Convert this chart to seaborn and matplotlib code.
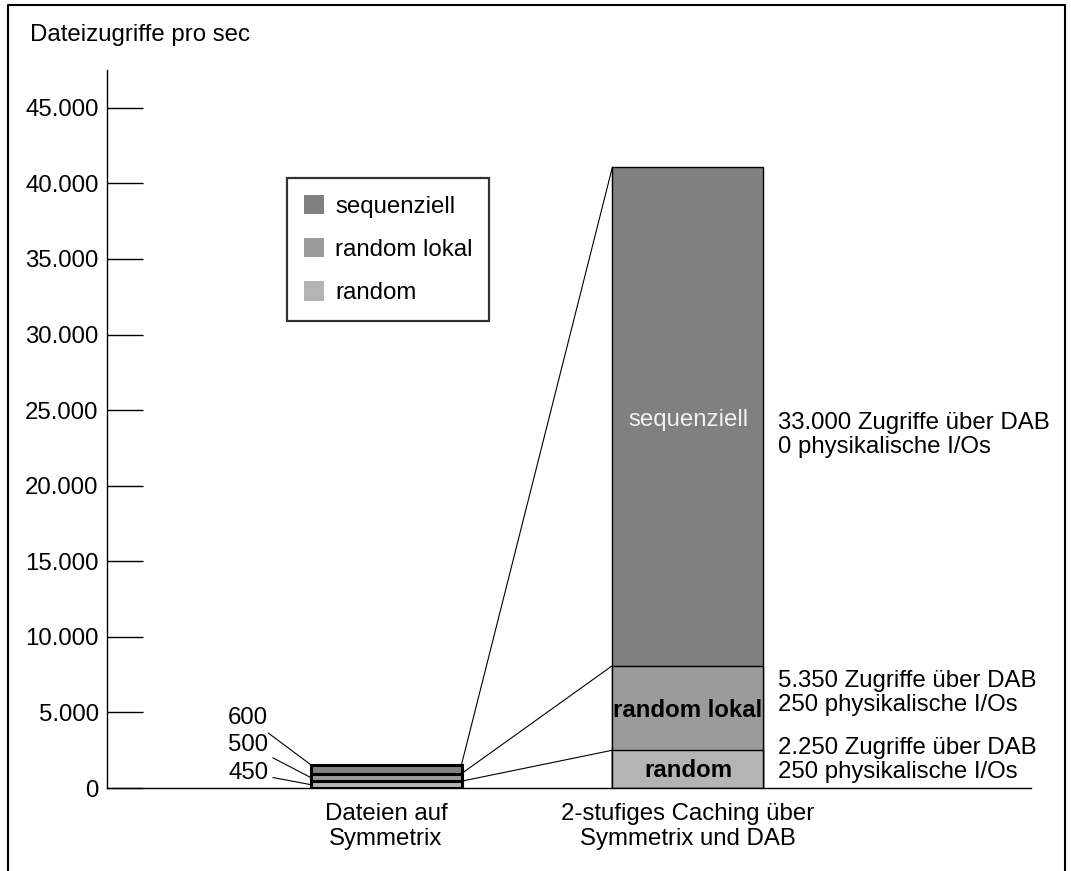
import matplotlib

matplotlib.use("Agg")

import matplotlib.pyplot as plt
import pandas as pd
import seaborn as sns
from matplotlib.lines import Line2D
from matplotlib.patches import Patch

# --- data ---
CATEGORIES = ["Dateien auf\nSymmetrix", "2-stufiges Caching über\nSymmetrix und DAB"]
SEGMENTS = ["random", "random lokal", "sequenziell"]
RANDOM = [450, 2500]
RANDOM_LOKAL = [500, 5600]
SEQUENZIELL = [600, 33000]
SMALL_LABELS = ["450", "500", "600"]
NOTES = [
    "2.250 Zugriffe über DAB\n250 physikalische I/Os",
    "5.350 Zugriffe über DAB\n250 physikalische I/Os",
    "33.000 Zugriffe über DAB\n0 physikalische I/Os",
]
Y_TICKS = list(range(0, 45001, 5000))
COLORS = {"random": "#b4b4b4", "random lokal": "#9b9b9b", "sequenziell": "#808080"}

FS = 17.3
W, H = 1071, 871

sns.set_theme(style="white")
plt.rcParams["font.family"] = ["Liberation Sans", "DejaVu Sans"]

fig = plt.figure(figsize=(W / 100, H / 100), dpi=100)
ax = fig.add_axes([107 / W, (H - 788) / H, (1031 - 107) / W, (788 - 70) / H])

df = pd.DataFrame({
    "cat": CATEGORIES,
    "random": RANDOM,
    "random lokal": RANDOM_LOKAL,
    "sequenziell": SEQUENZIELL,
})
df["c1"] = df["random"]
df["c2"] = df["c1"] + df["random lokal"]
df["c3"] = df["c2"] + df["sequenziell"]

# stacked bars by overlaying cumulative totals, tallest first
for col, seg in [("c3", "sequenziell"), ("c2", "random lokal"), ("c1", "random")]:
    sns.barplot(data=df, x="cat", y=col, color=COLORS[seg], width=0.5,
                edgecolor="black", linewidth=1.0, saturation=1, ax=ax)

for p in ax.patches:
    cx = p.get_x() + p.get_width() / 2
    p.set_linewidth(2.2 if cx < 0.5 else 1.0)

ax.set_xlim(-0.924, 2.136)
ax.set_ylim(0, 47500)
ax.set_xlabel("")
ax.set_ylabel("")
ax.set_yticks(Y_TICKS)
ax.set_yticklabels([f"{v:,}".replace(",", ".") for v in Y_TICKS], fontsize=FS)
ax.tick_params(axis="y", direction="in", length=26, width=1.0, color="black",
               pad=6, left=True, labelcolor="black")
ax.tick_params(axis="x", length=0, pad=11, labelsize=FS, labelcolor="black")
for lab in ax.get_xticklabels():
    lab.set_linespacing(1.15)
for s in ["top", "right"]:
    ax.spines[s].set_visible(False)
for s in ["left", "bottom"]:
    ax.spines[s].set_color("black")
    ax.spines[s].set_linewidth(1.0)

# connector lines between the two bars
cum1 = [df["c1"][0], df["c2"][0], df["c3"][0]]
cum2 = [df["c1"][1], df["c2"][1], df["c3"][1]]
for a, b in zip(cum1, cum2):
    ax.plot([0.25, 0.75], [a, b], color="black", lw=0.8, solid_capstyle="butt")

# small labels on the left of bar 1
bottoms1 = [0, cum1[0], cum1[1]]
vals1 = [RANDOM[0], RANDOM_LOKAL[0], SEQUENZIELL[0]]
label_y = [1000, 2850, 4630]
for lab, b, v, ly in zip(SMALL_LABELS, bottoms1, vals1, label_y):
    target = b + v if lab == "600" else b + v * 0.5
    ax.annotate(lab, xy=(-0.25, target), xytext=(-0.39, ly),
                ha="right", va="center", fontsize=FS, color="black",
                arrowprops=dict(arrowstyle="-", color="black", lw=0.8,
                                shrinkA=1, shrinkB=0))

# labels inside bar 2
ax.text(1, 24340, "sequenziell", ha="center", va="center", fontsize=FS, color="#f0f0f0")
ax.text(1, 5100, "random lokal", ha="center", va="center", fontsize=FS,
        color="black", fontweight="bold")
ax.text(1, 1130, "random", ha="center", va="center", fontsize=FS,
        color="black", fontweight="bold")

# notes on the right of bar 2
note_y = [1850, 6280, 23350]
for note, ny in zip(NOTES, note_y):
    ax.text(1.298, ny, note, ha="left", va="center", fontsize=FS, color="black",
            linespacing=1.15)

# legend
handles = [Patch(facecolor=COLORS[s], edgecolor="none") for s in reversed(SEGMENTS)]
leg = ax.legend(handles, list(reversed(SEGMENTS)), loc="upper left",
                bbox_to_anchor=(287 / W, (H - 178) / H), bbox_transform=fig.transFigure,
                fontsize=FS, frameon=True, fancybox=False, handlelength=0.85,
                handleheight=0.85, handletextpad=0.45, labelspacing=0.85,
                borderpad=0.7, borderaxespad=0)
leg.get_frame().set_edgecolor("black")
leg.get_frame().set_linewidth(1.6)
for t in leg.get_texts():
    t.set_color("black")

fig.text(30 / W, (H - 35) / H, "Dateizugriffe pro sec", ha="left", va="center",
         fontsize=FS, color="black")

# outer frame (open at the bottom)
fx0, fx1, fy = 8 / W, 1065 / W, (H - 5) / H
fig.add_artist(Line2D([fx0, fx0, fx1, fx1], [0, fy, fy, 0], transform=fig.transFigure,
                      color="black", lw=1.5))

fig.savefig("out.png", dpi=100)
